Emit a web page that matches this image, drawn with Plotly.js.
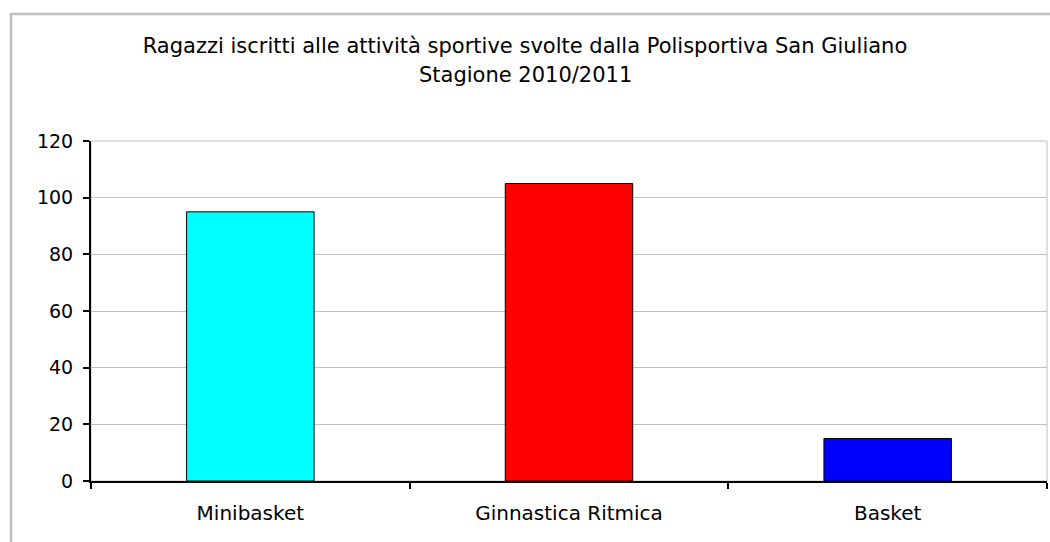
<!DOCTYPE html>
<html>
<head>
<meta charset="utf-8">
<script src="https://cdn.plot.ly/plotly-3.0.1.min.js"></script>
<style>html,body{margin:0;padding:0;background:#fff;}#chart{width:1050px;height:542px;}</style>
</head>
<body>
<div id="chart"></div>
<script>
const categories = ["Minibasket", "Ginnastica Ritmica", "Basket"];
const values = [95, 105, 15];
const barColors = ["#00FFFF", "#FF0000", "#0000FF"];
const yTickValues = [0, 20, 40, 60, 80, 100, 120];
const titleLine1 = "Ragazzi iscritti alle attività sportive svolte dalla Polisportiva San Giuliano";
const titleLine2 = "Stagione 2010/2011";

const W = 1050, H = 542;
const L = 91, R = 1047, T = 141, B = 481;
const px2x = p => (p - L) / (R - L);
const py2y = p => (B - p) / (B - T);
const FONT = "DejaVu Sans, Verdana, sans-serif";

const trace = {
  type: "bar",
  x: categories,
  y: values,
  width: 0.4,
  marker: { color: barColors, line: { color: "#000000", width: 1 } },
  hoverinfo: "x+y"
};

const layout = {
  width: W, height: H,
  margin: { l: L, r: W - R, t: T, b: H - B, pad: 0 },
  paper_bgcolor: "#ffffff",
  plot_bgcolor: "#ffffff",
  showlegend: false,
  font: { family: FONT, color: "#000000", size: 18 },
  title: {
    text: titleLine1,
    x: 0.5, xref: "container", xanchor: "center",
    y: 1 - 46 / H, yref: "container", yanchor: "middle",
    font: { family: FONT, size: 21, color: "#000000" }
  },
  annotations: [{
    text: titleLine2, showarrow: false,
    xref: "paper", yref: "paper",
    x: px2x(525), y: py2y(75), xanchor: "center", yanchor: "middle",
    font: { family: FONT, size: 21, color: "#000000" }
  }],
  xaxis: {
    type: "category",
    range: [-0.5, 2.5],
    showline: true, linecolor: "#000000", linewidth: 2,
    ticks: "outside", tickson: "boundaries", ticklen: 6, tickwidth: 2, tickcolor: "#000000",
    tickfont: { family: FONT, size: 20, color: "#000000" },
    ticklabelstandoff: 13,
    showgrid: false, zeroline: false, fixedrange: true
  },
  yaxis: {
    range: [0, 120],
    tickvals: yTickValues,
    showline: true, linecolor: "#000000", linewidth: 2,
    ticks: "outside", ticklen: 6, tickwidth: 2, tickcolor: "#000000",
    tickfont: { family: FONT, size: 19, color: "#000000" },
    ticklabelstandoff: 6,
    showgrid: true, gridcolor: "#c0c0c0", gridwidth: 1,
    zeroline: false, fixedrange: true
  },
  shapes: [
    { type: "rect", xref: "paper", yref: "paper", x0: 0, x1: 1, y0: 0, y1: 1,
      line: { color: "#c0c0c0", width: 1 }, layer: "below" },
    { type: "rect", xref: "paper", yref: "paper",
      x0: px2x(11), x1: px2x(1060), y0: py2y(14), y1: py2y(560),
      line: { color: "#c0c0c0", width: 2.5 }, layer: "below" }
  ],
  bargap: 0.6
};

Plotly.newPlot("chart", [trace], layout, { displayModeBar: false, staticPlot: true });
</script>
</body>
</html>
